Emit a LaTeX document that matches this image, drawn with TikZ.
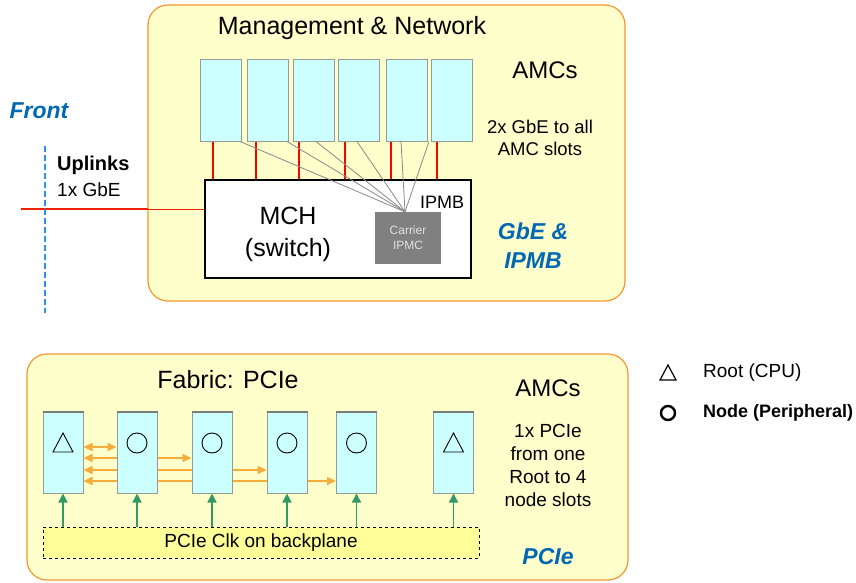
\documentclass[tikz,border=0pt]{standalone}
\usepackage{fontspec}
\setmainfont{Liberation Sans}
\usetikzlibrary{arrows.meta,backgrounds,calc}
\definecolor{panelyellow}{HTML}{FFFFCC}
\definecolor{panelorange}{HTML}{F7962F}
\definecolor{amccyan}{HTML}{CCFFFF}
\definecolor{boxgray}{HTML}{999999}
\definecolor{topgray}{HTML}{7A7A7A}
\definecolor{ipmcgray}{HTML}{808080}
\definecolor{ipmctext}{HTML}{E0E0E0}
\definecolor{txtblue}{HTML}{0068B4}
\definecolor{frontblue}{HTML}{2E8FF0}
\definecolor{linkred}{HTML}{EE2200}
\definecolor{slotred}{HTML}{FF0000}
\definecolor{ipmbgray}{HTML}{888888}
\definecolor{pcieorange}{HTML}{F4AC3A}
\definecolor{clkgreen}{HTML}{339966}
\definecolor{clkyellow}{HTML}{FFFF99}
\begin{document}
\begin{tikzpicture}[x=1pt,y=-1pt,
  panel/.style={rounded corners=20pt, draw=panelorange, fill=panelyellow, line width=1.2pt},
  amctop/.style={draw=boxgray, fill=amccyan, line width=1pt, minimum width=41pt, minimum height=81pt, inner sep=0pt},
  amcbot/.style={draw=boxgray, fill=amccyan, line width=1pt, minimum width=40pt, minimum height=81pt, inner sep=0pt},
  topedge/.style={draw=topgray, line width=2pt},
  txt/.style={inner sep=0pt, font=\fontsize{19}{23}\selectfont, align=center},
  bigtxt/.style={inner sep=0pt, font=\fontsize{24}{30}\selectfont, align=center},
  bluetxt/.style={inner sep=0pt, text=txtblue, font=\fontsize{23}{29}\selectfont\bfseries\itshape, align=center},
  slotlink/.style={draw=slotred, line width=1.3pt},
  ipmbline/.style={draw=ipmbgray, line width=0.8pt},
  pcielink/.style={draw=pcieorange, line width=1.6pt, {Triangle[length=9pt,width=8pt]}-{Triangle[length=9pt,width=8pt]}},
  clkarrow/.style={draw=clkgreen, line width=1.5pt, -{Triangle[length=9pt,width=9pt]}},
  symb/.style={draw=black, line width=0.9pt}
]
\useasboundingbox (0,0) rectangle (856,583);

% ---------- Panels (background layer) ----------
\begin{scope}[on background layer]
  \path[panel] (148,5) rectangle (625,301);
  \path[panel] (27,354) rectangle (628,580);
\end{scope}

% ---------- Top panel ----------
\node[bigtxt, font=\fontsize{25}{30}\selectfont] (mgmttitle) at (352,28) {Management \& Network};

\foreach \n/\x in {1/220.5,2/268,3/313.5,4/359,5/406.5,6/451.5}
  \node[amctop] (a\n) at (\x,100.5) {};

\node[draw=black, fill=white, line width=1.2pt, minimum width=266pt, minimum height=98pt, inner sep=0pt] (mch) at (338,229) {};
\node[inner sep=0pt, align=center, font=\fontsize{25}{32}\selectfont] (mchlabel) at (288,234) {MCH\\(switch)};
\node[fill=ipmcgray, minimum width=66pt, minimum height=52pt, inner sep=0pt, text=ipmctext, align=center, font=\fontsize{12}{15}\selectfont] (ipmc) at (408,238) {Carrier\\IPMC};
\node[inner sep=0pt, font=\fontsize{18}{20}\selectfont] (ipmb) at (442,202) {IPMB};
\coordinate (hub) at ([xshift=-3pt]ipmc.north);

% red GbE links
\foreach \n/\dx in {1/-7.5,2/-12,3/-14.5,4/-14,5/-15.5,6/-14.5}
  \draw[slotlink] ([xshift=\dx pt]a\n.south) -- ([xshift=\dx pt]a\n.south |- mch.north);
% IPMB lines
\foreach \n/\dx in {1/19.5,2/19,3/2.5,4/-2,5/-5.5,6/-22.5}
  \draw[ipmbline] ([xshift=\dx pt]a\n.south) -- (hub);

% Uplinks
\coordinate (upL) at (21,209);
\coordinate (upP) at (148,209);
\draw[linkred, line width=2pt] (upL) -- (upP);
\draw[linkred, line width=0.9pt] (upP) -- (mch.west |- upP);
\coordinate (f1) at (45,146);
\coordinate (f2) at (45,313);
\draw[frontblue, line width=2.6pt, dash pattern=on 6pt off 3pt] (f1) -- (f2);
\node[inner sep=0pt, text=txtblue, font=\fontsize{23}{26}\selectfont\bfseries\itshape] (front) at (39,111) {Front};
\node[inner sep=0pt, anchor=west, font=\fontsize{20}{24}\selectfont\bfseries] (uplinks) at (57,165) {Uplinks};
\node[inner sep=0pt, anchor=west, font=\fontsize{19}{22}\selectfont] (gbe1) at (57,190) {1x GbE};

\node[bigtxt] (amcs1) at (545,70) {AMCs};
\node[txt, font=\fontsize{18.5}{22}\selectfont] (gbeall) at (540,138) {2x GbE to all\\AMC slots};
\node[bluetxt] (gbeipmb) at (533,246) {GbE \&\\IPMB};

% ---------- Bottom panel ----------
\node[bigtxt, font=\fontsize{25}{30}\selectfont] (fabtitle) at (228,380) {Fabric: PCIe};

\foreach \n/\x in {1/63,2/137,3/212,4/287,5/356.5,6/453.5}
  \node[amcbot] (b\n) at (\x,452.5) {};

\begin{scope}[on background layer]
  \draw[pcielink, line width=2.2pt] ([yshift=5.5pt]b1.east) -- ([yshift=5.5pt]b2.west);
  \draw[pcielink] ([yshift=-5.5pt]b1.east) -- ([yshift=-5.5pt]b3.west);
  \draw[pcielink] ([yshift=-17.5pt]b1.east) -- ([yshift=-17.5pt]b4.west);
  \draw[pcielink] ([yshift=-28.5pt]b1.east) -- ([yshift=-28.5pt]b5.west);
\end{scope}

\foreach \n in {1,...,6}
  \draw[topedge] (b\n.north west) -- (b\n.north east);

% symbols
\foreach \n in {1,6}
  \draw[symb] ([yshift=9.5pt]b\n.center) ++(0,-10) -- ++(10,19) -- ++(-20,0) -- cycle;
\foreach \n in {2,3,4,5}
  \draw[symb] ([yshift=9.5pt]b\n.center) circle[radius=10pt];

% clock
\node[draw=black, dashed, fill=clkyellow, line width=0.9pt, minimum width=436pt, minimum height=31pt, inner sep=0pt, font=\fontsize{19}{22}\selectfont] (clk) at (261,542.5) {PCIe Clk on backplane};
\foreach \n in {1,...,6}
  \draw[clkarrow] (b\n.south |- clk.north) -- (b\n.south);

\node[bigtxt] (amcs2) at (548,388) {AMCs};
\node[txt] (pcieinfo) at (548,465) {1x PCIe\\from one\\Root to 4\\node slots};
\node[bluetxt] (pcielbl) at (548,557) {PCIe};

% legend
\coordinate (legT) at (668,373);
\coordinate (legC) at (668,413);
\draw[symb, line width=1.2pt] (legT) ++(0,-8) -- ++(8,15) -- ++(-16,0) -- cycle;
\draw[symb, line width=2.4pt] (legC) circle[radius=7pt];
\node[inner sep=0pt, anchor=west, font=\fontsize{19}{22}\selectfont] (legroot) at (703,373) {Root (CPU)};
\node[inner sep=0pt, anchor=west, font=\fontsize{18}{22}\selectfont\bfseries] (legnode) at (703,413) {Node (Peripheral)};
\end{tikzpicture}
\end{document}
